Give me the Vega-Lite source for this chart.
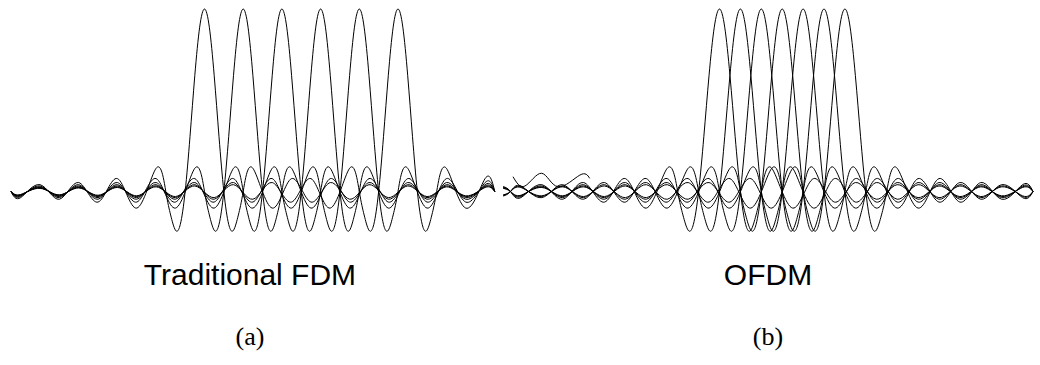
{
"$schema": "https://vega.github.io/schema/vega-lite/v6.json",
"padding": 0,
"spacing": 0,
"background": "white",
"config": {"view": {"stroke": null}, "concat": {"spacing": 0}},
"datasets": {
"fdm": [
{"k":0,"g":0,"v":0},{"k":0,"g":0.5,"v":-0.0335},{"k":0,"g":1.5,"v":0.0374},{"k":0,"g":2.5,"v":-0.0424},{"k":0,"g":3.5,"v":0.049},{"k":0,"g":4.5,"v":-0.0579},{"k":0,"g":5.5,"v":0.0707},{"k":0,"g":6.5,"v":-0.0909},{"k":0,"g":7.5,"v":0.1273},{"k":0,"g":8,"v":0},{"k":0,"g":8.25,"v":-0.1286},{"k":0,"g":8.5,"v":-0.2122},{"k":0,"g":8.75,"v":-0.1801},{"k":0,"g":9,"v":0},{"k":0,"g":9.25,"v":0.3001},{"k":0,"g":9.5,"v":0.6366},{"k":0,"g":9.75,"v":0.9003},{"k":0,"g":10,"v":1},{"k":0,"g":10.25,"v":0.9003},{"k":0,"g":10.5,"v":0.6366},{"k":0,"g":10.75,"v":0.3001},{"k":0,"g":11,"v":0},{"k":0,"g":11.25,"v":-0.1801},{"k":0,"g":11.5,"v":-0.2122},{"k":0,"g":11.75,"v":-0.1286},{"k":0,"g":12,"v":0},{"k":0,"g":12.5,"v":0.1273},{"k":0,"g":13.5,"v":-0.0909},{"k":0,"g":14.5,"v":0.0707},{"k":0,"g":15.5,"v":-0.0579},{"k":0,"g":16.5,"v":0.049},{"k":0,"g":17.5,"v":-0.0424},{"k":0,"g":18.5,"v":0.0374},{"k":0,"g":19.5,"v":-0.0335},{"k":0,"g":20.5,"v":0.0303},{"k":0,"g":21.5,"v":-0.0277},{"k":0,"g":22.5,"v":0.0255},{"k":0,"g":23.5,"v":-0.0236},{"k":0,"g":24.5,"v":0.022},{"k":0,"g":25,"v":0},
{"k":1,"g":0,"v":0},{"k":1,"g":0.5,"v":-0.0277},{"k":1,"g":1.5,"v":0.0303},{"k":1,"g":2.5,"v":-0.0335},{"k":1,"g":3.5,"v":0.0374},{"k":1,"g":4.5,"v":-0.0424},{"k":1,"g":5.5,"v":0.049},{"k":1,"g":6.5,"v":-0.0579},{"k":1,"g":7.5,"v":0.0707},{"k":1,"g":8.5,"v":-0.0909},{"k":1,"g":9.5,"v":0.1273},{"k":1,"g":10,"v":0},{"k":1,"g":10.25,"v":-0.1286},{"k":1,"g":10.5,"v":-0.2122},{"k":1,"g":10.75,"v":-0.1801},{"k":1,"g":11,"v":0},{"k":1,"g":11.25,"v":0.3001},{"k":1,"g":11.5,"v":0.6366},{"k":1,"g":11.75,"v":0.9003},{"k":1,"g":12,"v":1},{"k":1,"g":12.25,"v":0.9003},{"k":1,"g":12.5,"v":0.6366},{"k":1,"g":12.75,"v":0.3001},{"k":1,"g":13,"v":0},{"k":1,"g":13.25,"v":-0.1801},{"k":1,"g":13.5,"v":-0.2122},{"k":1,"g":13.75,"v":-0.1286},{"k":1,"g":14,"v":0},{"k":1,"g":14.5,"v":0.1273},{"k":1,"g":15.5,"v":-0.0909},{"k":1,"g":16.5,"v":0.0707},{"k":1,"g":17.5,"v":-0.0579},{"k":1,"g":18.5,"v":0.049},{"k":1,"g":19.5,"v":-0.0424},{"k":1,"g":20.5,"v":0.0374},{"k":1,"g":21.5,"v":-0.0335},{"k":1,"g":22.5,"v":0.0303},{"k":1,"g":23.5,"v":-0.0277},{"k":1,"g":24.5,"v":0.0255},{"k":1,"g":25,"v":0},
{"k":2,"g":0,"v":0},{"k":2,"g":0.5,"v":-0.0236},{"k":2,"g":1.5,"v":0.0255},{"k":2,"g":2.5,"v":-0.0277},{"k":2,"g":3.5,"v":0.0303},{"k":2,"g":4.5,"v":-0.0335},{"k":2,"g":5.5,"v":0.0374},{"k":2,"g":6.5,"v":-0.0424},{"k":2,"g":7.5,"v":0.049},{"k":2,"g":8.5,"v":-0.0579},{"k":2,"g":9.5,"v":0.0707},{"k":2,"g":10.5,"v":-0.0909},{"k":2,"g":11.5,"v":0.1273},{"k":2,"g":12,"v":0},{"k":2,"g":12.25,"v":-0.1286},{"k":2,"g":12.5,"v":-0.2122},{"k":2,"g":12.75,"v":-0.1801},{"k":2,"g":13,"v":0},{"k":2,"g":13.25,"v":0.3001},{"k":2,"g":13.5,"v":0.6366},{"k":2,"g":13.75,"v":0.9003},{"k":2,"g":14,"v":1},{"k":2,"g":14.25,"v":0.9003},{"k":2,"g":14.5,"v":0.6366},{"k":2,"g":14.75,"v":0.3001},{"k":2,"g":15,"v":0},{"k":2,"g":15.25,"v":-0.1801},{"k":2,"g":15.5,"v":-0.2122},{"k":2,"g":15.75,"v":-0.1286},{"k":2,"g":16,"v":0},{"k":2,"g":16.5,"v":0.1273},{"k":2,"g":17.5,"v":-0.0909},{"k":2,"g":18.5,"v":0.0707},{"k":2,"g":19.5,"v":-0.0579},{"k":2,"g":20.5,"v":0.049},{"k":2,"g":21.5,"v":-0.0424},{"k":2,"g":22.5,"v":0.0374},{"k":2,"g":23.5,"v":-0.0335},{"k":2,"g":24.5,"v":0.0303},{"k":2,"g":25,"v":0},
{"k":3,"g":0,"v":0},{"k":3,"g":0.5,"v":-0.0205},{"k":3,"g":1.5,"v":0.022},{"k":3,"g":2.5,"v":-0.0236},{"k":3,"g":3.5,"v":0.0255},{"k":3,"g":4.5,"v":-0.0277},{"k":3,"g":5.5,"v":0.0303},{"k":3,"g":6.5,"v":-0.0335},{"k":3,"g":7.5,"v":0.0374},{"k":3,"g":8.5,"v":-0.0424},{"k":3,"g":9.5,"v":0.049},{"k":3,"g":10.5,"v":-0.0579},{"k":3,"g":11.5,"v":0.0707},{"k":3,"g":12.5,"v":-0.0909},{"k":3,"g":13.5,"v":0.1273},{"k":3,"g":14,"v":0},{"k":3,"g":14.25,"v":-0.1286},{"k":3,"g":14.5,"v":-0.2122},{"k":3,"g":14.75,"v":-0.1801},{"k":3,"g":15,"v":0},{"k":3,"g":15.25,"v":0.3001},{"k":3,"g":15.5,"v":0.6366},{"k":3,"g":15.75,"v":0.9003},{"k":3,"g":16,"v":1},{"k":3,"g":16.25,"v":0.9003},{"k":3,"g":16.5,"v":0.6366},{"k":3,"g":16.75,"v":0.3001},{"k":3,"g":17,"v":0},{"k":3,"g":17.25,"v":-0.1801},{"k":3,"g":17.5,"v":-0.2122},{"k":3,"g":17.75,"v":-0.1286},{"k":3,"g":18,"v":0},{"k":3,"g":18.5,"v":0.1273},{"k":3,"g":19.5,"v":-0.0909},{"k":3,"g":20.5,"v":0.0707},{"k":3,"g":21.5,"v":-0.0579},{"k":3,"g":22.5,"v":0.049},{"k":3,"g":23.5,"v":-0.0424},{"k":3,"g":24.5,"v":0.0374},{"k":3,"g":25,"v":0},
{"k":4,"g":0,"v":0},{"k":4,"g":0.5,"v":-0.0182},{"k":4,"g":1.5,"v":0.0193},{"k":4,"g":2.5,"v":-0.0205},{"k":4,"g":3.5,"v":0.022},{"k":4,"g":4.5,"v":-0.0236},{"k":4,"g":5.5,"v":0.0255},{"k":4,"g":6.5,"v":-0.0277},{"k":4,"g":7.5,"v":0.0303},{"k":4,"g":8.5,"v":-0.0335},{"k":4,"g":9.5,"v":0.0374},{"k":4,"g":10.5,"v":-0.0424},{"k":4,"g":11.5,"v":0.049},{"k":4,"g":12.5,"v":-0.0579},{"k":4,"g":13.5,"v":0.0707},{"k":4,"g":14.5,"v":-0.0909},{"k":4,"g":15.5,"v":0.1273},{"k":4,"g":16,"v":0},{"k":4,"g":16.25,"v":-0.1286},{"k":4,"g":16.5,"v":-0.2122},{"k":4,"g":16.75,"v":-0.1801},{"k":4,"g":17,"v":0},{"k":4,"g":17.25,"v":0.3001},{"k":4,"g":17.5,"v":0.6366},{"k":4,"g":17.75,"v":0.9003},{"k":4,"g":18,"v":1},{"k":4,"g":18.25,"v":0.9003},{"k":4,"g":18.5,"v":0.6366},{"k":4,"g":18.75,"v":0.3001},{"k":4,"g":19,"v":0},{"k":4,"g":19.25,"v":-0.1801},{"k":4,"g":19.5,"v":-0.2122},{"k":4,"g":19.75,"v":-0.1286},{"k":4,"g":20,"v":0},{"k":4,"g":20.5,"v":0.1273},{"k":4,"g":21.5,"v":-0.0909},{"k":4,"g":22.5,"v":0.0707},{"k":4,"g":23.5,"v":-0.0579},{"k":4,"g":24.5,"v":0.049},{"k":4,"g":25,"v":0},
{"k":5,"g":0,"v":0},{"k":5,"g":0.5,"v":-0.0163},{"k":5,"g":1.5,"v":0.0172},{"k":5,"g":2.5,"v":-0.0182},{"k":5,"g":3.5,"v":0.0193},{"k":5,"g":4.5,"v":-0.0205},{"k":5,"g":5.5,"v":0.022},{"k":5,"g":6.5,"v":-0.0236},{"k":5,"g":7.5,"v":0.0255},{"k":5,"g":8.5,"v":-0.0277},{"k":5,"g":9.5,"v":0.0303},{"k":5,"g":10.5,"v":-0.0335},{"k":5,"g":11.5,"v":0.0374},{"k":5,"g":12.5,"v":-0.0424},{"k":5,"g":13.5,"v":0.049},{"k":5,"g":14.5,"v":-0.0579},{"k":5,"g":15.5,"v":0.0707},{"k":5,"g":16.5,"v":-0.0909},{"k":5,"g":17.5,"v":0.1273},{"k":5,"g":18,"v":0},{"k":5,"g":18.25,"v":-0.1286},{"k":5,"g":18.5,"v":-0.2122},{"k":5,"g":18.75,"v":-0.1801},{"k":5,"g":19,"v":0},{"k":5,"g":19.25,"v":0.3001},{"k":5,"g":19.5,"v":0.6366},{"k":5,"g":19.75,"v":0.9003},{"k":5,"g":20,"v":1},{"k":5,"g":20.25,"v":0.9003},{"k":5,"g":20.5,"v":0.6366},{"k":5,"g":20.75,"v":0.3001},{"k":5,"g":21,"v":0},{"k":5,"g":21.25,"v":-0.1801},{"k":5,"g":21.5,"v":-0.2122},{"k":5,"g":21.75,"v":-0.1286},{"k":5,"g":22,"v":0},{"k":5,"g":22.5,"v":0.1273},{"k":5,"g":23.5,"v":-0.0909},{"k":5,"g":24.5,"v":0.0707},{"k":5,"g":25,"v":0}
],
"ofdm": [
{"k":0,"g":-0.35,"v":0.0274},{"k":0,"g":0,"v":0},{"k":0,"g":0.5,"v":-0.0335},{"k":0,"g":1.5,"v":0.0374},{"k":0,"g":2.5,"v":-0.0424},{"k":0,"g":3.5,"v":0.049},{"k":0,"g":4.5,"v":-0.0579},{"k":0,"g":5.5,"v":0.0707},{"k":0,"g":6.5,"v":-0.0909},{"k":0,"g":7.5,"v":0.1273},{"k":0,"g":8,"v":0},{"k":0,"g":8.25,"v":-0.1286},{"k":0,"g":8.5,"v":-0.2122},{"k":0,"g":8.75,"v":-0.1801},{"k":0,"g":9,"v":0},{"k":0,"g":9.25,"v":0.3001},{"k":0,"g":9.5,"v":0.6366},{"k":0,"g":9.75,"v":0.9003},{"k":0,"g":10,"v":1},{"k":0,"g":10.25,"v":0.9003},{"k":0,"g":10.5,"v":0.6366},{"k":0,"g":10.75,"v":0.3001},{"k":0,"g":11,"v":0},{"k":0,"g":11.25,"v":-0.1801},{"k":0,"g":11.5,"v":-0.2122},{"k":0,"g":11.75,"v":-0.1286},{"k":0,"g":12,"v":0},{"k":0,"g":12.5,"v":0.1273},{"k":0,"g":13.5,"v":-0.0909},{"k":0,"g":14.5,"v":0.0707},{"k":0,"g":15.5,"v":-0.0579},{"k":0,"g":16.5,"v":0.049},{"k":0,"g":17.5,"v":-0.0424},{"k":0,"g":18.5,"v":0.0374},{"k":0,"g":19.5,"v":-0.0335},{"k":0,"g":20.5,"v":0.0303},{"k":0,"g":21.5,"v":-0.0277},{"k":0,"g":22.5,"v":0.0255},{"k":0,"g":23.5,"v":-0.0236},{"k":0,"g":24.5,"v":0.022},{"k":0,"g":25,"v":0},
{"k":1,"g":-0.35,"v":-0.025},{"k":1,"g":0,"v":0},{"k":1,"g":0.5,"v":0.0303},{"k":1,"g":1.5,"v":-0.0335},{"k":1,"g":2.5,"v":0.0374},{"k":1,"g":3.5,"v":-0.0424},{"k":1,"g":4.5,"v":0.049},{"k":1,"g":5.5,"v":-0.0579},{"k":1,"g":6.5,"v":0.0707},{"k":1,"g":7.5,"v":-0.0909},{"k":1,"g":8.5,"v":0.1273},{"k":1,"g":9,"v":0},{"k":1,"g":9.25,"v":-0.1286},{"k":1,"g":9.5,"v":-0.2122},{"k":1,"g":9.75,"v":-0.1801},{"k":1,"g":10,"v":0},{"k":1,"g":10.25,"v":0.3001},{"k":1,"g":10.5,"v":0.6366},{"k":1,"g":10.75,"v":0.9003},{"k":1,"g":11,"v":1},{"k":1,"g":11.25,"v":0.9003},{"k":1,"g":11.5,"v":0.6366},{"k":1,"g":11.75,"v":0.3001},{"k":1,"g":12,"v":0},{"k":1,"g":12.25,"v":-0.1801},{"k":1,"g":12.5,"v":-0.2122},{"k":1,"g":12.75,"v":-0.1286},{"k":1,"g":13,"v":0},{"k":1,"g":13.5,"v":0.1273},{"k":1,"g":14.5,"v":-0.0909},{"k":1,"g":15.5,"v":0.0707},{"k":1,"g":16.5,"v":-0.0579},{"k":1,"g":17.5,"v":0.049},{"k":1,"g":18.5,"v":-0.0424},{"k":1,"g":19.5,"v":0.0374},{"k":1,"g":20.5,"v":-0.0335},{"k":1,"g":21.5,"v":0.0303},{"k":1,"g":22.5,"v":-0.0277},{"k":1,"g":23.5,"v":0.0255},{"k":1,"g":24.5,"v":-0.0236},{"k":1,"g":25,"v":0},
{"k":2,"g":-0.35,"v":0.023},{"k":2,"g":0,"v":0},{"k":2,"g":0.5,"v":-0.0277},{"k":2,"g":1.5,"v":0.0303},{"k":2,"g":2.5,"v":-0.0335},{"k":2,"g":3.5,"v":0.0374},{"k":2,"g":4.5,"v":-0.0424},{"k":2,"g":5.5,"v":0.049},{"k":2,"g":6.5,"v":-0.0579},{"k":2,"g":7.5,"v":0.0707},{"k":2,"g":8.5,"v":-0.0909},{"k":2,"g":9.5,"v":0.1273},{"k":2,"g":10,"v":0},{"k":2,"g":10.25,"v":-0.1286},{"k":2,"g":10.5,"v":-0.2122},{"k":2,"g":10.75,"v":-0.1801},{"k":2,"g":11,"v":0},{"k":2,"g":11.25,"v":0.3001},{"k":2,"g":11.5,"v":0.6366},{"k":2,"g":11.75,"v":0.9003},{"k":2,"g":12,"v":1},{"k":2,"g":12.25,"v":0.9003},{"k":2,"g":12.5,"v":0.6366},{"k":2,"g":12.75,"v":0.3001},{"k":2,"g":13,"v":0},{"k":2,"g":13.25,"v":-0.1801},{"k":2,"g":13.5,"v":-0.2122},{"k":2,"g":13.75,"v":-0.1286},{"k":2,"g":14,"v":0},{"k":2,"g":14.5,"v":0.1273},{"k":2,"g":15.5,"v":-0.0909},{"k":2,"g":16.5,"v":0.0707},{"k":2,"g":17.5,"v":-0.0579},{"k":2,"g":18.5,"v":0.049},{"k":2,"g":19.5,"v":-0.0424},{"k":2,"g":20.5,"v":0.0374},{"k":2,"g":21.5,"v":-0.0335},{"k":2,"g":22.5,"v":0.0303},{"k":2,"g":23.5,"v":-0.0277},{"k":2,"g":24.5,"v":0.0255},{"k":2,"g":25,"v":0},
{"k":3,"g":-0.35,"v":-0.0212},{"k":3,"g":0,"v":0},{"k":3,"g":0.5,"v":0.0255},{"k":3,"g":1.5,"v":-0.0277},{"k":3,"g":2.5,"v":0.0303},{"k":3,"g":3.5,"v":-0.0335},{"k":3,"g":4.5,"v":0.0374},{"k":3,"g":5.5,"v":-0.0424},{"k":3,"g":6.5,"v":0.049},{"k":3,"g":7.5,"v":-0.0579},{"k":3,"g":8.5,"v":0.0707},{"k":3,"g":9.5,"v":-0.0909},{"k":3,"g":10.5,"v":0.1273},{"k":3,"g":11,"v":0},{"k":3,"g":11.25,"v":-0.1286},{"k":3,"g":11.5,"v":-0.2122},{"k":3,"g":11.75,"v":-0.1801},{"k":3,"g":12,"v":0},{"k":3,"g":12.25,"v":0.3001},{"k":3,"g":12.5,"v":0.6366},{"k":3,"g":12.75,"v":0.9003},{"k":3,"g":13,"v":1},{"k":3,"g":13.25,"v":0.9003},{"k":3,"g":13.5,"v":0.6366},{"k":3,"g":13.75,"v":0.3001},{"k":3,"g":14,"v":0},{"k":3,"g":14.25,"v":-0.1801},{"k":3,"g":14.5,"v":-0.2122},{"k":3,"g":14.75,"v":-0.1286},{"k":3,"g":15,"v":0},{"k":3,"g":15.5,"v":0.1273},{"k":3,"g":16.5,"v":-0.0909},{"k":3,"g":17.5,"v":0.0707},{"k":3,"g":18.5,"v":-0.0579},{"k":3,"g":19.5,"v":0.049},{"k":3,"g":20.5,"v":-0.0424},{"k":3,"g":21.5,"v":0.0374},{"k":3,"g":22.5,"v":-0.0335},{"k":3,"g":23.5,"v":0.0303},{"k":3,"g":24.5,"v":-0.0277},{"k":3,"g":25,"v":0},
{"k":4,"g":-0.35,"v":0.0198},{"k":4,"g":0,"v":0},{"k":4,"g":0.5,"v":-0.0236},{"k":4,"g":1.5,"v":0.0255},{"k":4,"g":2.5,"v":-0.0277},{"k":4,"g":3.5,"v":0.0303},{"k":4,"g":4.5,"v":-0.0335},{"k":4,"g":5.5,"v":0.0374},{"k":4,"g":6.5,"v":-0.0424},{"k":4,"g":7.5,"v":0.049},{"k":4,"g":8.5,"v":-0.0579},{"k":4,"g":9.5,"v":0.0707},{"k":4,"g":10.5,"v":-0.0909},{"k":4,"g":11.5,"v":0.1273},{"k":4,"g":12,"v":0},{"k":4,"g":12.25,"v":-0.1286},{"k":4,"g":12.5,"v":-0.2122},{"k":4,"g":12.75,"v":-0.1801},{"k":4,"g":13,"v":0},{"k":4,"g":13.25,"v":0.3001},{"k":4,"g":13.5,"v":0.6366},{"k":4,"g":13.75,"v":0.9003},{"k":4,"g":14,"v":1},{"k":4,"g":14.25,"v":0.9003},{"k":4,"g":14.5,"v":0.6366},{"k":4,"g":14.75,"v":0.3001},{"k":4,"g":15,"v":0},{"k":4,"g":15.25,"v":-0.1801},{"k":4,"g":15.5,"v":-0.2122},{"k":4,"g":15.75,"v":-0.1286},{"k":4,"g":16,"v":0},{"k":4,"g":16.5,"v":0.1273},{"k":4,"g":17.5,"v":-0.0909},{"k":4,"g":18.5,"v":0.0707},{"k":4,"g":19.5,"v":-0.0579},{"k":4,"g":20.5,"v":0.049},{"k":4,"g":21.5,"v":-0.0424},{"k":4,"g":22.5,"v":0.0374},{"k":4,"g":23.5,"v":-0.0335},{"k":4,"g":24.5,"v":0.0303},{"k":4,"g":25,"v":0},
{"k":5,"g":-0.35,"v":-0.0185},{"k":5,"g":0,"v":0},{"k":5,"g":0.5,"v":0.022},{"k":5,"g":1.5,"v":-0.0236},{"k":5,"g":2.5,"v":0.0255},{"k":5,"g":3.5,"v":-0.0277},{"k":5,"g":4.5,"v":0.0303},{"k":5,"g":5.5,"v":-0.0335},{"k":5,"g":6.5,"v":0.0374},{"k":5,"g":7.5,"v":-0.0424},{"k":5,"g":8.5,"v":0.049},{"k":5,"g":9.5,"v":-0.0579},{"k":5,"g":10.5,"v":0.0707},{"k":5,"g":11.5,"v":-0.0909},{"k":5,"g":12.5,"v":0.1273},{"k":5,"g":13,"v":0},{"k":5,"g":13.25,"v":-0.1286},{"k":5,"g":13.5,"v":-0.2122},{"k":5,"g":13.75,"v":-0.1801},{"k":5,"g":14,"v":0},{"k":5,"g":14.25,"v":0.3001},{"k":5,"g":14.5,"v":0.6366},{"k":5,"g":14.75,"v":0.9003},{"k":5,"g":15,"v":1},{"k":5,"g":15.25,"v":0.9003},{"k":5,"g":15.5,"v":0.6366},{"k":5,"g":15.75,"v":0.3001},{"k":5,"g":16,"v":0},{"k":5,"g":16.25,"v":-0.1801},{"k":5,"g":16.5,"v":-0.2122},{"k":5,"g":16.75,"v":-0.1286},{"k":5,"g":17,"v":0},{"k":5,"g":17.5,"v":0.1273},{"k":5,"g":18.5,"v":-0.0909},{"k":5,"g":19.5,"v":0.0707},{"k":5,"g":20.5,"v":-0.0579},{"k":5,"g":21.5,"v":0.049},{"k":5,"g":22.5,"v":-0.0424},{"k":5,"g":23.5,"v":0.0374},{"k":5,"g":24.5,"v":-0.0335},{"k":5,"g":25,"v":0},
{"k":6,"g":-0.35,"v":0.0174},{"k":6,"g":0,"v":0},{"k":6,"g":0.5,"v":-0.0205},{"k":6,"g":1.5,"v":0.022},{"k":6,"g":2.5,"v":-0.0236},{"k":6,"g":3.5,"v":0.0255},{"k":6,"g":4.5,"v":-0.0277},{"k":6,"g":5.5,"v":0.0303},{"k":6,"g":6.5,"v":-0.0335},{"k":6,"g":7.5,"v":0.0374},{"k":6,"g":8.5,"v":-0.0424},{"k":6,"g":9.5,"v":0.049},{"k":6,"g":10.5,"v":-0.0579},{"k":6,"g":11.5,"v":0.0707},{"k":6,"g":12.5,"v":-0.0909},{"k":6,"g":13.5,"v":0.1273},{"k":6,"g":14,"v":0},{"k":6,"g":14.25,"v":-0.1286},{"k":6,"g":14.5,"v":-0.2122},{"k":6,"g":14.75,"v":-0.1801},{"k":6,"g":15,"v":0},{"k":6,"g":15.25,"v":0.3001},{"k":6,"g":15.5,"v":0.6366},{"k":6,"g":15.75,"v":0.9003},{"k":6,"g":16,"v":1},{"k":6,"g":16.25,"v":0.9003},{"k":6,"g":16.5,"v":0.6366},{"k":6,"g":16.75,"v":0.3001},{"k":6,"g":17,"v":0},{"k":6,"g":17.25,"v":-0.1801},{"k":6,"g":17.5,"v":-0.2122},{"k":6,"g":17.75,"v":-0.1286},{"k":6,"g":18,"v":0},{"k":6,"g":18.5,"v":0.1273},{"k":6,"g":19.5,"v":-0.0909},{"k":6,"g":20.5,"v":0.0707},{"k":6,"g":21.5,"v":-0.0579},{"k":6,"g":22.5,"v":0.049},{"k":6,"g":23.5,"v":-0.0424},{"k":6,"g":24.5,"v":0.0374},{"k":6,"g":25,"v":0},
{"k":7,"g":0.12,"v":0.081},{"k":7,"g":0.69,"v":0.03},{"k":7,"g":1.49,"v":0.1},{"k":7,"g":2.27,"v":0.026},{"k":7,"g":3.32,"v":0.09},{"k":7,"g":3.79,"v":0.072}
]
},
"hconcat": [
{
"width": 500,
"height": 365,
"layer": [
{
"data": {"name": "fdm"},
"mark": {"type": "line", "interpolate": "natural", "color": "black", "strokeWidth": 1},
"encoding": {
"x": {"field": "g", "type": "quantitative", "axis": null, "scale": {"domain": [-0.5685, 25.2713], "nice": false, "zero": false}},
"y": {"field": "v", "type": "quantitative", "axis": null, "scale": {"domain": [-0.9507, 1.0493], "nice": false, "zero": false}},
"detail": {"field": "k", "type": "nominal"}
}
},
{
"data": {"values": [{}]},
"mark": {"type": "text", "font": "Liberation Sans", "fontSize": 30, "align": "center", "baseline": "alphabetic", "color": "black"},
"encoding": {
"x": {"datum": 12.35, "type": "quantitative"},
"y": {"datum": -0.5123, "type": "quantitative"},
"text": {"value": "Traditional FDM"}
}
},
{
"data": {"values": [{}]},
"mark": {"type": "text", "font": "Liberation Serif", "fontSize": 26, "align": "center", "baseline": "alphabetic", "color": "black"},
"encoding": {
"x": {"datum": 12.35, "type": "quantitative"},
"y": {"datum": -0.8411, "type": "quantitative"},
"text": {"value": "(a)"}
}
}
]
},
{
"width": 540,
"height": 365,
"layer": [
{
"data": {"name": "ofdm"},
"mark": {"type": "line", "interpolate": "natural", "color": "black", "strokeWidth": 1},
"encoding": {
"x": {"field": "g", "type": "quantitative", "axis": null, "scale": {"domain": [-0.5024, 25.3349], "nice": false, "zero": false}},
"y": {"field": "v", "type": "quantitative", "axis": null, "scale": {"domain": [-0.9507, 1.0493], "nice": false, "zero": false}},
"detail": {"field": "k", "type": "nominal"}
}
},
{
"data": {"values": [{}]},
"mark": {"type": "text", "font": "Liberation Sans", "fontSize": 30, "align": "center", "baseline": "alphabetic", "color": "black"},
"encoding": {
"x": {"datum": 12.32, "type": "quantitative"},
"y": {"datum": -0.5123, "type": "quantitative"},
"text": {"value": "OFDM"}
}
},
{
"data": {"values": [{}]},
"mark": {"type": "text", "font": "Liberation Serif", "fontSize": 26, "align": "center", "baseline": "alphabetic", "color": "black"},
"encoding": {
"x": {"datum": 12.32, "type": "quantitative"},
"y": {"datum": -0.8411, "type": "quantitative"},
"text": {"value": "(b)"}
}
}
]
}
]
}
